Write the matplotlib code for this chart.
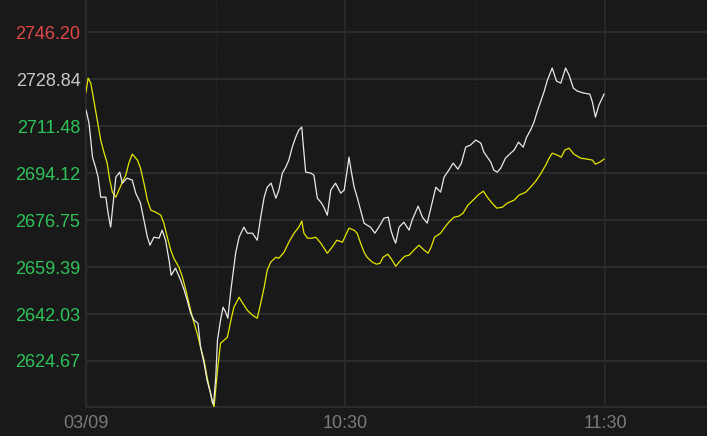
import matplotlib
matplotlib.use("Agg")
import matplotlib.pyplot as plt

# minutes since 09:30
t_white = [0, 0.7, 1.1, 1.5, 2.2, 2.8, 3.4, 4.6, 5.1, 5.7, 6.5, 6.9, 7.8, 8.4, 9.5, 10.7,
           11.5, 12.6, 13.4, 14.2, 14.8, 15.7, 16.9, 17.6, 18.4, 19.2, 19.7, 20.7, 21.9,
           22.7, 23.4, 24.2, 25.0, 25.9, 26.5, 27.3, 28.0, 28.8, 29.2, 29.5, 30.0, 30.4,
           31.1, 31.7, 32.3, 32.8, 33.5, 34.1, 34.6, 35.4, 36.5, 37.3, 38.5, 39.6, 40.4,
           41.2, 41.9, 42.8, 43.9, 44.6, 45.4, 46.2, 46.9, 47.7, 48.5, 49.2, 49.9, 50.2,
           50.8, 52.0, 52.7, 53.5, 54.3, 55.0, 55.8, 56.6, 57.7, 58.9, 59.7, 60.4, 60.8,
           61.3, 62.0, 62.7, 63.5, 64.3, 65.0, 65.8, 66.8, 67.7, 68.9, 69.9, 70.5, 71.1,
           71.6, 72.4, 73.5, 74.7, 75.4, 76.8, 77.8, 78.9, 79.8, 80.9, 82.0, 82.8, 83.9,
           84.9, 86.0, 86.8, 87.8, 88.9, 90.1, 91.3, 92.0, 92.8, 93.6, 94.3, 95.1, 95.9,
           97.0, 98.2, 99.0, 100.0, 101.1, 101.9, 102.8, 103.6, 104.3, 105.1, 105.9, 106.7,
           107.8, 108.8, 109.8, 110.9, 111.7, 112.7, 113.6, 115.1, 116.5, 117.1, 117.8,
           118.6, 119.8]
v_white = [2717.44, 2712.63, 2706.34, 2700.04, 2696.35, 2692.65, 2685.24, 2685.24, 2679.32,
           2674.14, 2686.72, 2692.65, 2694.49, 2690.42, 2692.27, 2691.53, 2686.72, 2683.02,
           2676.73, 2670.44, 2667.47, 2670.44, 2670.07, 2673.03, 2669.33, 2661.92, 2656.37,
           2658.96, 2654.52, 2650.82, 2647.12, 2642.31, 2639.72, 2638.60, 2629.72, 2623.80,
           2617.51, 2612.70, 2609.37, 2608.60, 2618.63, 2632.32, 2639.72, 2644.53, 2642.68,
           2640.46, 2650.82, 2658.22, 2664.52, 2670.44, 2674.14, 2671.91, 2671.91, 2669.33,
           2677.84, 2685.24, 2688.94, 2690.42, 2684.87, 2687.83, 2694.12, 2696.35, 2698.93,
           2703.74, 2707.45, 2710.04, 2711.15, 2705.23, 2694.49, 2694.12, 2693.38, 2684.87,
           2683.39, 2681.54, 2678.58, 2687.83, 2690.42, 2686.72, 2687.83, 2695.23, 2700.04,
           2695.23, 2688.94, 2685.24, 2680.43, 2675.62, 2674.88, 2674.14, 2671.91, 2674.14,
           2677.47, 2677.84, 2673.03, 2670.07, 2668.22, 2674.14, 2675.99, 2673.03, 2676.73,
           2681.91, 2677.84, 2675.62, 2681.54, 2688.94, 2687.09, 2692.65, 2695.23, 2697.82,
           2695.60, 2697.82, 2703.74, 2704.49, 2706.34, 2705.23, 2701.90, 2700.04, 2698.19,
           2695.23, 2694.49, 2695.97, 2699.67, 2701.52, 2702.63, 2705.60, 2703.74, 2707.45,
           2710.04, 2713.00, 2716.70, 2720.40, 2724.10, 2728.54, 2732.98, 2728.17, 2727.43,
           2732.98, 2730.39, 2725.58, 2724.47, 2723.73, 2723.36, 2720.40, 2714.85, 2719.29,
           2723.36]

t_yellow = [0, 0.5, 1.1, 1.8, 2.6, 3.4, 4.2, 4.9, 5.5, 6.1, 6.9, 7.6, 8.4, 9.2, 9.9, 10.7,
            11.9, 12.6, 13.4, 14.2, 15.0, 16.1, 17.3, 18.0, 18.8, 19.6, 20.3, 21.5, 22.3,
            23.1, 23.8, 24.6, 25.7, 26.5, 27.3, 28.0, 28.8, 29.6, 30.4, 31.1, 31.9, 32.7,
            33.5, 34.2, 35.4, 36.1, 37.3, 38.5, 39.6, 40.4, 41.2, 41.9, 42.7, 43.9, 44.6,
            45.8, 46.9, 48.1, 49.2, 49.9, 50.4, 51.2, 52.3, 53.1, 54.3, 55.8, 56.9, 58.0,
            59.3, 60.8, 62.0, 62.7, 63.5, 64.3, 65.0, 66.2, 67.2, 68.0, 68.7, 69.8, 70.8,
            71.6, 72.8, 73.7, 74.7, 75.8, 77.0, 78.2, 79.1, 79.8, 80.6, 82.0, 82.8, 83.9,
            85.1, 86.2, 87.2, 88.3, 89.5, 90.9, 91.9, 92.8, 93.9, 95.0, 96.3, 97.4, 99.0,
            100.1, 101.7, 102.8, 104.0, 105.1, 106.3, 107.1, 107.8, 109.0, 109.9, 110.7,
            111.7, 112.8, 114.4, 115.9, 117.1, 117.8, 118.8, 119.8]
v_yellow = [2724.10, 2729.28, 2727.43, 2721.14, 2713.74, 2706.34, 2701.52, 2697.82, 2691.53,
            2687.09, 2685.24, 2687.83, 2690.79, 2693.38, 2697.82, 2701.15, 2698.93, 2695.97,
            2690.42, 2684.13, 2680.43, 2679.69, 2678.58, 2675.62, 2670.44, 2665.63, 2662.66,
            2659.33, 2655.63, 2650.82, 2646.01, 2640.83, 2634.91, 2629.72, 2624.91, 2618.62,
            2612.70, 2607.52, 2621.21, 2631.21, 2632.32, 2633.43, 2639.72, 2644.53, 2648.23,
            2646.38, 2643.42, 2641.57, 2640.46, 2646.01, 2651.93, 2658.22, 2661.19, 2663.03,
            2662.66, 2664.89, 2668.59, 2671.91, 2674.14, 2676.36, 2671.91, 2670.07, 2670.07,
            2670.44, 2668.22, 2664.52, 2666.73, 2669.33, 2668.59, 2673.77, 2673.03, 2671.91,
            2668.22, 2664.89, 2663.03, 2661.19, 2660.44, 2660.81, 2663.03, 2664.15, 2661.92,
            2659.70, 2661.92, 2663.40, 2663.77, 2665.63, 2667.47, 2665.63, 2664.52, 2666.73,
            2670.44, 2671.91, 2673.77, 2675.99, 2677.84, 2678.21, 2679.32, 2682.28, 2684.13,
            2686.35, 2687.46, 2685.24, 2683.02, 2681.17, 2681.54, 2683.02, 2684.13, 2685.98,
            2687.09, 2688.94, 2691.16, 2693.75, 2697.08, 2699.67, 2701.52, 2700.78, 2700.04,
            2702.63, 2703.37, 2701.15, 2699.67, 2699.30, 2698.93, 2697.45, 2698.19, 2699.30]

y_ticks = [2746.20, 2728.84, 2711.48, 2694.12, 2676.75, 2659.39, 2642.03, 2624.67]
y_colors = ["#e04848", "#c8c8c8", "#2ec45a", "#2ec45a", "#2ec45a", "#2ec45a", "#2ec45a", "#2ec45a"]
x_ticks = [0, 60, 120]
x_labels = ["03/09", "10:30", "11:30"]

bg = "#191919"
grid = "#2c2c2c"

fig = plt.figure(figsize=(7.07, 4.36), dpi=100, facecolor=bg)
ax = fig.add_axes([86 / 707, 29 / 436, 621 / 707, 407 / 436])
ax.set_facecolor(bg)

for y in y_ticks:
    ax.axhline(y, color=grid, lw=1.4, zorder=0)
for x in x_ticks:
    ax.axvline(x, color=grid, lw=1.2, zorder=0)
for x in [30, 90]:
    ax.axvline(x, color=grid, lw=1.0, ls=(0, (1, 1.5)), zorder=0)

ax.plot(t_yellow, v_yellow, color="#e6e600", lw=0.9, zorder=3)
ax.plot(t_white, v_white, color="#e8e8e8", lw=0.9, zorder=4)

ax.set_xlim(0, 143.6)
ax.set_ylim(2607.64, 2758.15)

for s in ["top", "right"]:
    ax.spines[s].set_visible(False)
for s in ["left", "bottom"]:
    ax.spines[s].set_color(grid)
    ax.spines[s].set_linewidth(1.4)

ax.set_yticks(y_ticks)
ax.set_yticklabels([f"{v:.2f}" for v in y_ticks])
for lab, c in zip(ax.get_yticklabels(), y_colors):
    lab.set_color(c)
ax.set_xticks(x_ticks)
ax.set_xticklabels(x_labels, color="#7a7a7a")
ax.tick_params(length=0, labelsize=13)
ax.tick_params(axis="y", pad=4)
ax.tick_params(axis="x", pad=6)
for lab in ax.get_xticklabels() + ax.get_yticklabels():
    lab.set_fontfamily("Liberation Sans")

fig.savefig("out.png", dpi=100, facecolor=bg)
